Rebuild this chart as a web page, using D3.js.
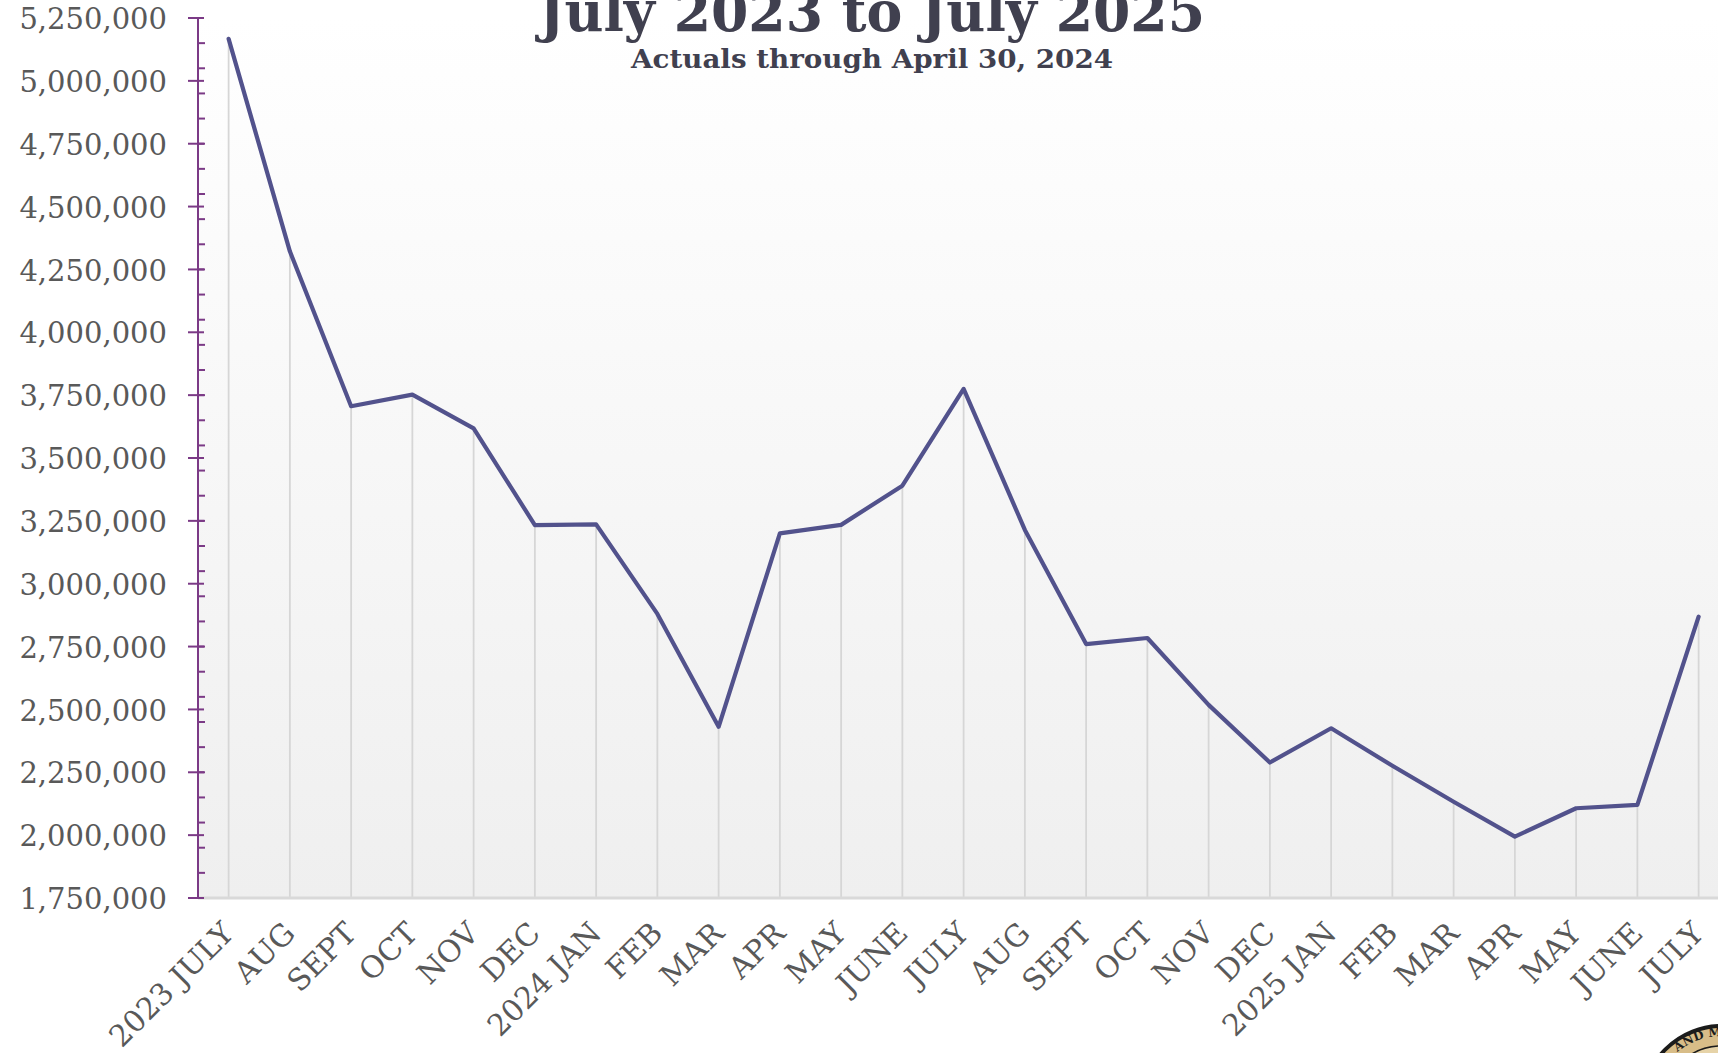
<!DOCTYPE html>
<html>
<head>
<meta charset="utf-8">
<script src="https://cdn.jsdelivr.net/npm/d3@7"></script>
<style>
  html, body { margin: 0; padding: 0; background: #ffffff; overflow: hidden; }
  svg { display: block; }
  text { font-family: Georgia, "DejaVu Serif", serif; }
</style>
</head>
<body>
<svg id="chart" width="1718" height="1053"></svg>
<script>
// Monthly totals, July 2023 through July 2025
const months = ["2023 JULY", "AUG", "SEPT", "OCT", "NOV", "DEC", "2024 JAN", "FEB", "MAR", "APR", "MAY", "JUNE",
                "JULY", "AUG", "SEPT", "OCT", "NOV", "DEC", "2025 JAN", "FEB", "MAR", "APR", "MAY", "JUNE", "JULY"];
const values = [5167000, 4322000, 3706000, 3752000, 3618000, 3233000, 3236000, 2880000, 2431000, 3200000, 3234000, 3390000,
                3775000, 3214000, 2760000, 2784000, 2518000, 2289000, 2425000, 2276000, 2133000, 1994000, 2107000, 2120000, 2869000];
const yMajorTicks = d3.range(1750000, 5250001, 250000);
const yMinorTicks = d3.range(1850000, 5200000, 100000);
const titleText = "July 2023 to July 2025";
const subtitleText = "Actuals through April 30, 2024";

const svg = d3.select("#chart");
const plot = { left: 198, top: 18, bottom: 898, right: 198 + 25 * 61.25 };

const x = d3.scaleBand().domain(d3.range(months.length)).range([plot.left, plot.right]).padding(0);
const cx = i => x(i) + x.bandwidth() / 2;
const y = d3.scaleLinear().domain([1750000, 5250000]).range([plot.bottom, plot.top]);

// Plot-area background: soft vertical gradient
const defs = svg.append("defs");
const grad = defs.append("linearGradient").attr("id", "bg").attr("x1", 0).attr("y1", 0).attr("x2", 0).attr("y2", 1);
grad.append("stop").attr("offset", "0%").attr("stop-color", "#ffffff");
grad.append("stop").attr("offset", "100%").attr("stop-color", "#efefef");
svg.append("rect")
  .attr("x", plot.left).attr("y", plot.top)
  .attr("width", plot.right - plot.left).attr("height", plot.bottom - plot.top)
  .attr("fill", "url(#bg)");

// Vertical drop lines at each month
svg.append("g").selectAll("line").data(d3.range(months.length)).join("line")
  .attr("x1", d => cx(d)).attr("x2", d => cx(d))
  .attr("y1", d => y(values[d])).attr("y2", plot.bottom)
  .attr("stroke", "#d6d6d6").attr("stroke-width", 1.8);

// Category baseline
svg.append("line")
  .attr("x1", plot.left).attr("x2", plot.right)
  .attr("y1", plot.bottom).attr("y2", plot.bottom)
  .attr("stroke", "#d9d9d9").attr("stroke-width", 3);

// Month labels, rotated
svg.append("g").selectAll("text").data(d3.range(months.length)).join("text")
  .attr("transform", d => `translate(${cx(d) + 7},${plot.bottom + 37}) rotate(-45)`)
  .attr("text-anchor", "end")
  .attr("font-size", 30)
  .attr("fill", "#595959")
  .text(d => months[d]);

// Y axis: major ticks crossing the axis, minor ticks inside
const axisColor = "#7b3a86";
const yAxis = svg.append("g");
yAxis.append("line")
  .attr("x1", plot.left).attr("x2", plot.left)
  .attr("y1", y(5250000)).attr("y2", plot.bottom + 1)
  .attr("stroke", axisColor).attr("stroke-width", 2);
yAxis.selectAll("line.major").data(yMajorTicks).join("line").attr("class", "major")
  .attr("x1", plot.left - 10).attr("x2", plot.left + 6)
  .attr("y1", d => y(d)).attr("y2", d => y(d))
  .attr("stroke", axisColor).attr("stroke-width", 2);
yAxis.selectAll("line.minor").data(yMinorTicks).join("line").attr("class", "minor")
  .attr("x1", plot.left).attr("x2", plot.left + 7)
  .attr("y1", d => y(d)).attr("y2", d => y(d))
  .attr("stroke", axisColor).attr("stroke-width", 2);
yAxis.selectAll("text").data(yMajorTicks).join("text")
  .attr("x", 167).attr("y", d => y(d) + 1)
  .attr("dy", "0.35em")
  .attr("text-anchor", "end")
  .attr("font-size", 29)
  .attr("fill", "#595959")
  .text(d => d3.format(",")(d));

// Series line
const line = d3.line().x((d, i) => cx(i)).y(d => y(d));
svg.append("path")
  .datum(values)
  .attr("d", line)
  .attr("fill", "none")
  .attr("stroke", "#52528c")
  .attr("stroke-width", 4.2)
  .attr("stroke-linejoin", "round")
  .attr("stroke-linecap", "round");

// Title and subtitle
svg.append("text")
  .attr("x", 872).attr("y", 31)
  .attr("text-anchor", "middle")
  .attr("font-size", 56).attr("font-weight", "bold")
  .attr("fill", "#40404f")
  .attr("textLength", 666).attr("lengthAdjust", "spacingAndGlyphs")
  .text(titleText);
svg.append("text")
  .attr("x", 872).attr("y", 68)
  .attr("text-anchor", "middle")
  .attr("font-size", 26).attr("font-weight", "bold")
  .attr("fill", "#40404f")
  .attr("textLength", 482).attr("lengthAdjust", "spacingAndGlyphs")
  .text(subtitleText);

// Seal in the lower right corner
const seal = svg.append("g").attr("transform", "translate(1722,1106)");
seal.append("circle").attr("r", 80).attr("fill", "#d8bd88").attr("stroke", "#1b1b1b").attr("stroke-width", 4);
seal.append("circle").attr("r", 60).attr("fill", "#e6d3a8").attr("stroke", "#1b1b1b").attr("stroke-width", 1.5);
defs.append("path").attr("id", "sealArc").attr("d", "M -70,0 A 70,70 0 0 1 70,0");
seal.append("text")
  .attr("font-size", 12).attr("font-weight", "bold").attr("fill", "#1b1b1b")
  .attr("font-family", "'DejaVu Sans', sans-serif")
  .append("textPath").attr("href", "#sealArc").attr("startOffset", "28%")
  .text("AND MILITARY AFFAIRS");
</script>
</body>
</html>
